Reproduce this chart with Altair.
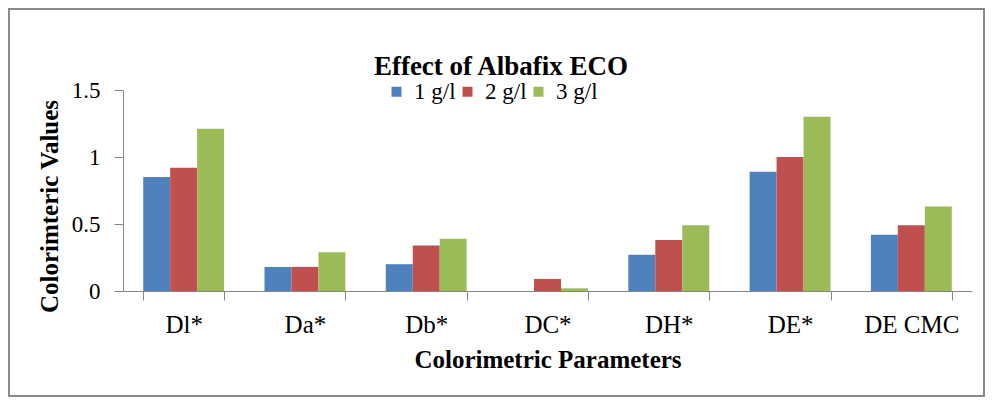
import altair as alt
import pandas as pd

categories = ["Dl*", "Da*", "Db*", "DC*", "DH*", "DE*", "DE CMC"]
series_names = ["1 g/l", "2 g/l", "3 g/l"]
values_1 = [0.85, 0.18, 0.20, 0.00, 0.27, 0.89, 0.42]
values_2 = [0.92, 0.18, 0.34, 0.09, 0.38, 1.00, 0.49]
values_3 = [1.21, 0.29, 0.39, 0.02, 0.49, 1.30, 0.63]
colors = ["#4F81BD", "#C0504D", "#9BBB59"]
y_ticks = [0, 0.5, 1, 1.5]
title_text = "Effect of Albafix ECO"
x_title = "Colorimetric  Parameters"
y_title = "Colorimteric  Values"

rows = []
for name, vals in zip(series_names, [values_1, values_2, values_3]):
    for c, v in zip(categories, vals):
        rows.append({"param": c, "conc": name, "value": v})
df = pd.DataFrame(rows)

FONT = "Liberation Serif"
GRAY = "#868686"

bars = alt.Chart(df).mark_bar().encode(
    x=alt.X(
        "param:N",
        sort=categories,
        scale=alt.Scale(paddingInner=0.333, paddingOuter=0.1667),
        axis=alt.Axis(
            title=x_title,
            labelAngle=0,
            tickBand="extent",
            tickSize=9,
            labelPadding=12,
            labelFontSize=25,
            titleFontSize=25,
            titleFontWeight="bold",
            titleBaseline="alphabetic",
            titleY=76,
            domainColor=GRAY,
            tickColor=GRAY,
            labelColor="black",
            titleColor="black",
        ),
    ),
    xOffset=alt.XOffset(
        "conc:N", sort=series_names, scale=alt.Scale(paddingInner=0, paddingOuter=0)
    ),
    y=alt.Y(
        "value:Q",
        scale=alt.Scale(domain=[0, 1.5], nice=False),
        axis=alt.Axis(
            values=y_ticks,
            format="~g",
            title=y_title,
            grid=False,
            tickSize=9,
            labelPadding=14,
            labelFontSize=23,
            titleFontSize=25,
            titleFontWeight="bold",
            titleBaseline="alphabetic",
            titleX=-66,
            titleY=116,
            domainColor=GRAY,
            tickColor=GRAY,
            labelColor="black",
            titleColor="black",
        ),
    ),
    color=alt.Color(
        "conc:N",
        sort=series_names,
        scale=alt.Scale(domain=series_names, range=colors),
        legend=alt.Legend(
            title=None,
            orient="none",
            legendX=262,
            legendY=-10,
            direction="horizontal",
            symbolType="square",
            symbolSize=100,
            symbolStrokeWidth=0,
            labelFontSize=23,
            labelFont=FONT,
            labelColor="black",
            labelOffset=6,
            columnPadding=0,
            padding=0,
        ),
    ),
)

title_layer = alt.Chart(pd.DataFrame({"t": [title_text]})).mark_text(
    font=FONT, fontSize=27, fontWeight="bold", align="center", baseline="alphabetic", color="black"
).encode(text="t:N", x=alt.value(378), y=alt.value(-15))

frame = alt.Chart(pd.DataFrame({"f": [0]})).mark_rect(
    fill="white", fillOpacity=0, stroke="#8a8a8a", strokeWidth=2
).encode(x=alt.value(-114), x2=alt.value(861), y=alt.value(-81), y2=alt.value(306))

chart = (
    alt.layer(frame, bars, title_layer)
    .properties(
        width=849,
        height=201,
        autosize=alt.AutoSizeParams(type="none"),
        padding={"left": 115, "top": 82, "right": 14, "bottom": 106},
        background="white",
    )
    .configure_view(strokeWidth=0)
    .configure_axis(labelFont=FONT, titleFont=FONT)
)

chart.save("out.html", embed_options={"renderer": "svg", "actions": False})
